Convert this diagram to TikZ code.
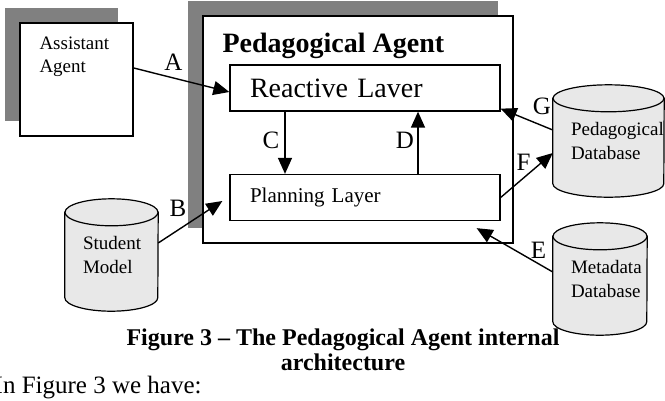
\documentclass[tikz,border=0pt]{standalone}
\usepackage{fontspec}
\setmainfont{Liberation Serif}
\usetikzlibrary{arrows.meta,positioning,shadows,backgrounds}
\definecolor{shgray}{RGB}{128,128,128}
\definecolor{dbgray}{RGB}{232,232,232}

\begin{document}
\begin{tikzpicture}[x=1pt,y=-1pt,
    >={Triangle[length=16pt,width=14pt]},
    box/.style={draw,fill=white,line width=1.4pt,inner sep=0pt,
      drop shadow={shadow xshift=-15pt,shadow yshift=15pt,opacity=1,fill=shgray}},
    layer/.style={draw,fill=white,line width=1.3pt,minimum width=270pt,minimum height=46pt,
      inner xsep=20pt,text width=230pt,align=left},
    flow/.style={->,line width=1.4pt},
    lbl/.style={font=\fontsize{25}{27}\selectfont,inner sep=0pt},
    db/.style={minimum height=112pt,inner xsep=18pt,inner ysep=0pt,align=left,
      font=\fontsize{19}{24}\selectfont},
    cyl/.style={draw,fill=dbgray,line width=1.2pt}]
  \useasboundingbox (0,0) rectangle (665,400);

  % agents
  \node[box,minimum width=113pt,minimum height=113pt] (asst) at (76.5,79.5) {};
  \node[anchor=north west,align=left,inner sep=0pt,font=\fontsize{19}{23}\selectfont]
    (asstname) at ([shift={(20,14)}]asst.north west) {Assistant\\Agent};
  \node[box,minimum width=310pt,minimum height=227pt] (pa) at (358,129.5) {};
  \node[anchor=north west,inner sep=0pt,font=\fontsize{28}{30}\selectfont\bfseries]
    (patitle) at ([shift={(20,18)}]pa.north west) {Pedagogical Agent};

  % layers
  \node[layer,font=\fontsize{28}{30}\selectfont] (react) at (365,88) {Reactive Laver};
  \node[layer,font=\fontsize{21}{23}\selectfont] (plan) at (365,197.5) {Planning Layer};

  % databases
  \node[db,minimum width=93pt,text width=57pt] (sm) at (111.5,255) {Student\\Model};
  \node[db,minimum width=111pt,text width=75pt] (pdb) at (608.5,141) {Pedagogical\\Database};
  \node[db,minimum width=94pt,text width=58pt] (mdb) at (600,279) {Metadata\\Database};
  \begin{scope}[on background layer]
    \foreach \n/\r in {sm/46.5,pdb/55.5,mdb/47}{
      \filldraw[cyl] ([yshift=-13.5pt]\n.north west) -- ([yshift=13.5pt]\n.south west)
        arc[start angle=180,end angle=360,x radius=\r pt,y radius=13.5pt]
        -- ([yshift=-13.5pt]\n.north east) -- cycle;
      \filldraw[cyl] ([yshift=-13.5pt]\n.north) ellipse[x radius=\r pt,y radius=13.5pt];
    }
  \end{scope}

  % connectors
  \draw[flow] ([yshift=11.5pt]asst.east) -- ([yshift=-4pt]react.west);
  \draw[flow] ([xshift=-80pt]react.south) -- ([xshift=-80pt]plan.north);
  \draw[flow] ([xshift=53pt]plan.north) -- ([xshift=53pt]react.south);
  \draw[flow] ([yshift=12pt]sm.east) -- ([xshift=-7pt,yshift=-3.5pt]plan.west);
  \draw[flow] ([yshift=11pt]pdb.west) -- ([yshift=3pt]react.south east);
  \draw[flow] (plan.east) -- ([yshift=-12pt]pdb.west);
  \draw[flow] ([yshift=7pt]mdb.west) -- ([xshift=-24pt,yshift=-7pt]plan.south east);

  \node[lbl] (la) at (173.5,62.5) {A};
  \node[lbl] (lb) at (178,208) {B};
  \node[lbl] (lc) at (271,140.5) {C};
  \node[lbl] (ld) at (405,140.5) {D};
  \node[lbl] (le) at (538.5,250) {E};
  \node[lbl] (lf) at (523.5,162) {F};
  \node[lbl] (lg) at (542,106.5) {G};

  % caption
  \node[anchor=north,align=center,inner sep=0pt,font=\fontsize{24}{25}\selectfont\bfseries]
    (cap) at (343,328.5) {Figure 3 – The Pedagogical Agent internal\\architecture};
  \node[anchor=base west,inner sep=0pt,font=\fontsize{25}{27}\selectfont]
    (intro) at (-5.5,393) {In Figure 3 we have:};
\end{tikzpicture}
\end{document}
